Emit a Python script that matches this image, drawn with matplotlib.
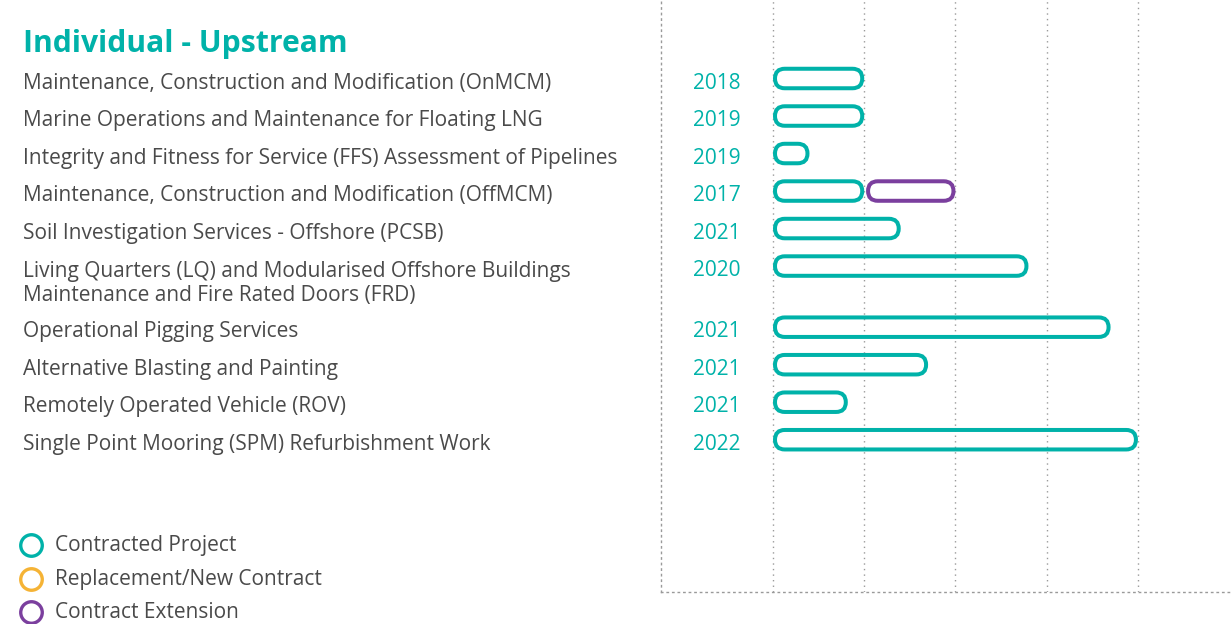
import matplotlib
matplotlib.use('Agg')
import matplotlib.pyplot as plt
from matplotlib.patches import FancyBboxPatch
from matplotlib.lines import Line2D
import matplotlib.transforms as mtransforms

plt.rcParams['font.family'] = ['Open Sans', 'DejaVu Sans']

# data
projects = [
    "Maintenance, Construction and Modification (OnMCM)",
    "Marine Operations and Maintenance for Floating LNG",
    "Integrity and Fitness for Service (FFS) Assessment of Pipelines",
    "Maintenance, Construction and Modification (OffMCM)",
    "Soil Investigation Services - Offshore (PCSB)",
    "Living Quarters (LQ) and Modularised Offshore Buildings\nMaintenance and Fire Rated Doors (FRD)",
    "Operational Pigging Services",
    "Alternative Blasting and Painting",
    "Remotely Operated Vehicle (ROV)",
    "Single Point Mooring (SPM) Refurbishment Work",
]
award_years = ["2018", "2019", "2019", "2017", "2021", "2020", "2021", "2021", "2021", "2022"]
# contract duration (grid units), contracted project
contract_len = [1.0, 1.0, 0.4, 1.0, 1.4, 2.8, 3.7, 1.7, 0.82, 4.0]
# extension: (project index, start, length)
ext_rows = [3]
ext_start = [1.02]
ext_len = [0.98]

legend_labels = ["Contracted Project", "Replacement/New Contract", "Contract Extension"]

TEAL = '#00b2a9'
ORANGE = '#f5b335'
PURPLE = '#7b3f9e'
GREY_TXT = '#4a4a4a'
legend_colors = [TEAL, ORANGE, PURPLE]

W, H = 1231, 624
fig = plt.figure(figsize=(W / 100, H / 100), dpi=100)
ax_left, ax_bottom = 660.5 / W, (H - 592) / H
ax = fig.add_axes([ax_left, ax_bottom, 1 - ax_left, 1 - ax_bottom])

# rows: extra gap after the two-line label
row_y = []
extra = 0.0
for i, name in enumerate(projects):
    row_y.append(i + extra)
    if '\n' in name:
        extra += 0.63

x0, x1 = -1.233, 5.02
y_top, y_bot = -2.093, 13.69
ax.set_xlim(x0, x1)
ax.set_ylim(y_bot, y_top)

px_x = (W - 660.5) / (x1 - x0)          # pixels per x unit
px_y = 592 / (y_bot - y_top)            # pixels per row

lw_px = 4.0
bar_h_px = 23.5 - lw_px
h = bar_h_px / px_y
hx = bar_h_px / px_x
aspect = h / hx
inset = lw_px / 2 / px_x


def capsule(x, length, y, color):
    p = FancyBboxPatch((x + inset, y - h / 2), length - 2 * inset, h,
                       boxstyle=f"round,pad=0,rounding_size={hx / 2}",
                       mutation_aspect=aspect, facecolor='none',
                       edgecolor=color, linewidth=lw_px * 0.72, zorder=3)
    ax.add_patch(p)


for y, ln in zip(row_y, contract_len):
    capsule(0, ln, y, TEAL)
for r, s, ln in zip(ext_rows, ext_start, ext_len):
    capsule(s, ln, row_y[r], PURPLE)

# grid and frame
dot = (0, (1, 3))
for gx in range(5):
    ax.axvline(gx, color='#9a9a9a', lw=1, linestyle=dot, zorder=1)
for s in ['top', 'right']:
    ax.spines[s].set_visible(False)
for s in ['left', 'bottom']:
    ax.spines[s].set_color('#9a9a9a')
    ax.spines[s].set_linewidth(1)
    ax.spines[s].set_linestyle(dot)
ax.set_xticks([])
ax.set_yticks([])
ax.patch.set_alpha(0)

# year labels
for y, yr in zip(row_y, award_years):
    ax.text(-0.877, y + 0.12, yr, color=TEAL, fontsize=15, va='center', ha='left')

# project labels
trans = mtransforms.blended_transform_factory(fig.transFigure, ax.transData)
for y, name in zip(row_y, projects):
    if '\n' in name:
        ax.text(23 / W, y - 0.14, name, transform=trans, color=GREY_TXT,
                fontsize=15, va='top', ha='left', linespacing=1.17)
    else:
        ax.text(23 / W, y + 0.12, name, transform=trans, color=GREY_TXT,
                fontsize=15, va='center', ha='left')

fig.text(23 / W, 1 - 44 / H, "Individual - Upstream", color=TEAL,
         fontsize=21.7, fontweight='bold', va='center', ha='left')

# legend
for i, (lab, c) in enumerate(zip(legend_labels, legend_colors)):
    yy = 1 - (545 + 33.5 * i) / H
    fig.add_artist(Line2D([31 / W], [yy], transform=fig.transFigure, marker='o',
                          markersize=15.5, markerfacecolor='none',
                          markeredgecolor=c, markeredgewidth=2.4, linestyle='none'))
    fig.text(55 / W, yy - 1 / H, lab, color=GREY_TXT, fontsize=15, va='center', ha='left')

fig.savefig('out.png', dpi=100)
